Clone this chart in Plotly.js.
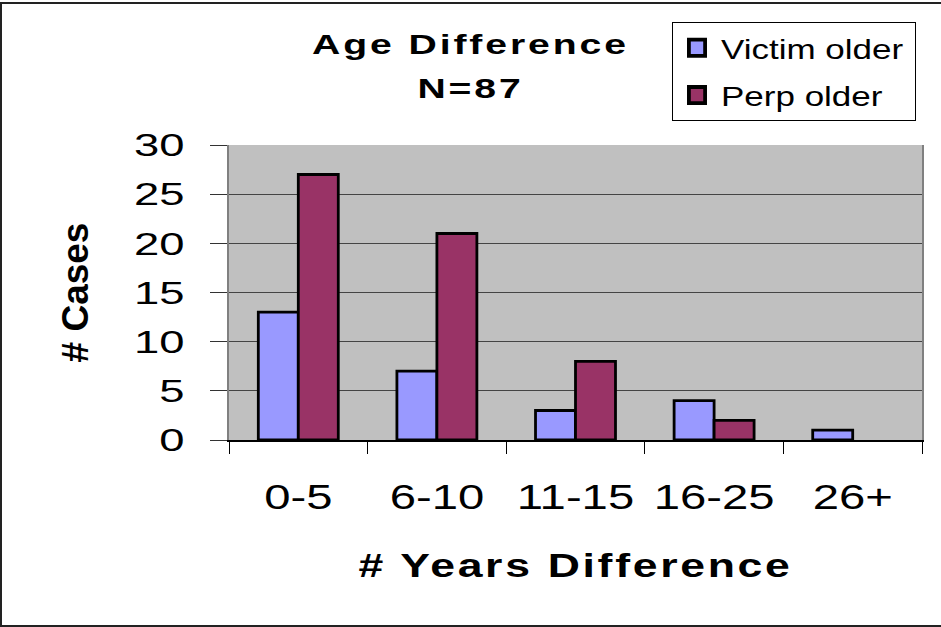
<!DOCTYPE html>
<html>
<head>
<meta charset="utf-8">
<script src="https://cdn.plot.ly/plotly-3.0.1.min.js"></script>
<style>
html,body{margin:0;padding:0;background:#fff;overflow:hidden;}
#wrap{position:relative;width:941px;height:627px;}
#chart{position:absolute;left:0;top:0;width:941px;height:627px;}
#frame{position:absolute;left:0;top:2px;width:945px;height:625px;box-sizing:border-box;border:2px solid #222;pointer-events:none;}
</style>
</head>
<body>
<div id="wrap"><div id="chart"></div><div id="frame"></div></div>
<script>
const categories = ['0-5', '6-10', '11-15', '16-25', '26+'];
const victimOlder = [13, 7, 3, 4, 1];
const perpOlder = [27, 21, 8, 2, 0];
const yTickVals = [0, 5, 10, 15, 20, 25, 30];
const seriesNames = ['Victim older', 'Perp older'];

const FONT = 'Liberation Sans, Arial, sans-serif';
const outline = vals => vals.map(v => v > 0 ? 2.8 : 0);

const traces = [
  {type:'bar', name:seriesNames[0], x:categories, y:victimOlder,
   marker:{color:'#9999ff', line:{color:'#000', width:outline(victimOlder)}}, legendgroup:'a'},
  {type:'bar', name:seriesNames[1], x:categories, y:perpOlder,
   marker:{color:'#993366', line:{color:'#000', width:outline(perpOlder)}}, legendgroup:'b'}
];

const layout = {
  width:941, height:627,
  margin:{l:229, r:19, t:145, b:187},
  paper_bgcolor:'#fff', plot_bgcolor:'#c0c0c0',
  font:{family:FONT, color:'#000'},
  barmode:'group', bargap:0.423, bargroupgap:0,
  showlegend:true,
  title:{text:'Age Difference<br>N=87', x:0.5, xref:'container', xanchor:'center',
         y:1-54/627, yref:'container', yanchor:'top',
         font:{family:FONT, size:27, weight:'bold', color:'#000'}},
  legend:{x:(672-229)/693, y:(440-22)/295, xanchor:'left', yanchor:'top',
          bordercolor:'#000', borderwidth:1, bgcolor:'#fff',
          font:{family:FONT, size:28, color:'#000'}, itemwidth:38,
          traceorder:'grouped', tracegroupgap:8},
  xaxis:{type:'category', ticks:'outside', tickson:'boundaries', ticklen:12,
         tickcolor:'#000', tickwidth:1, showline:true, linecolor:'#000', linewidth:1.5,
         showgrid:false, tickfont:{family:FONT, size:35, color:'#000'},
         ticklabelstandoff:26, automargin:false,
         title:{text:'# Years Difference', standoff:38,
                font:{family:FONT, size:33, weight:'bold', color:'#000'}}},
  yaxis:{range:[0,30], tickvals:yTickVals, ticktext:yTickVals.map(String),
         ticks:'outside', ticklen:17, tickcolor:'#333', tickwidth:1,
         showgrid:true, gridcolor:'#444', gridwidth:1,
         showline:true, linecolor:'#808080', linewidth:2, mirror:true, zeroline:false,
         tickfont:{family:FONT, size:32, color:'#000'}, ticklabelstandoff:19,
         automargin:false,
         title:{text:'# Cases', standoff:49,
                font:{family:FONT, size:37, weight:'bold', color:'#000'}}}
};

function stretch(sel, s, anchor, spacing){
  document.querySelectorAll(sel).forEach(el=>{
    if(spacing) el.style.letterSpacing = spacing;
    const bb = el.getBBox();
    const cx = anchor==='end' ? bb.x+bb.width : anchor==='start' ? bb.x : bb.x+bb.width/2;
    const t = el.getAttribute('transform') || '';
    el.setAttribute('transform', t + ' translate(' + cx + ',0) scale(' + s + ',1) translate(' + (-cx) + ',0)');
  });
}

Plotly.newPlot('chart', traces, layout, {staticPlot:true, displayModeBar:false}).then(()=>{
  const lines = document.querySelectorAll('.gtitle tspan.line');
  if(lines.length>1) lines[1].setAttribute('dy','1.63em');
  stretch('.gtitle', 1.45, 'center', '2px');
  stretch('.xtitle', 1.35, 'center', '2px');
  stretch('.xtick text', 1.35, 'center');
  stretch('.ytick text', 1.42, 'end');
  stretch('.legendtext', 1.25, 'start');
  document.querySelectorAll('.legendpoints path').forEach(p=>{
    const t = p.getAttribute('transform') || '';
    p.setAttribute('transform', t + ' scale(1.35)');
  });
  // widen the legend box to hold the stretched labels
  document.querySelectorAll('.legend .scrollbox').forEach(g=>g.removeAttribute('clip-path'));
  const bg = document.querySelector('.legend rect.bg');
  if(bg){
    const bl = bg.getBoundingClientRect().left;
    let maxR = 0;
    document.querySelectorAll('.legendtext').forEach(t=>{maxR = Math.max(maxR, t.getBoundingClientRect().right);});
    bg.setAttribute('width', Math.round(maxR - bl + 12));
  }
});
</script>
</body>
</html>
